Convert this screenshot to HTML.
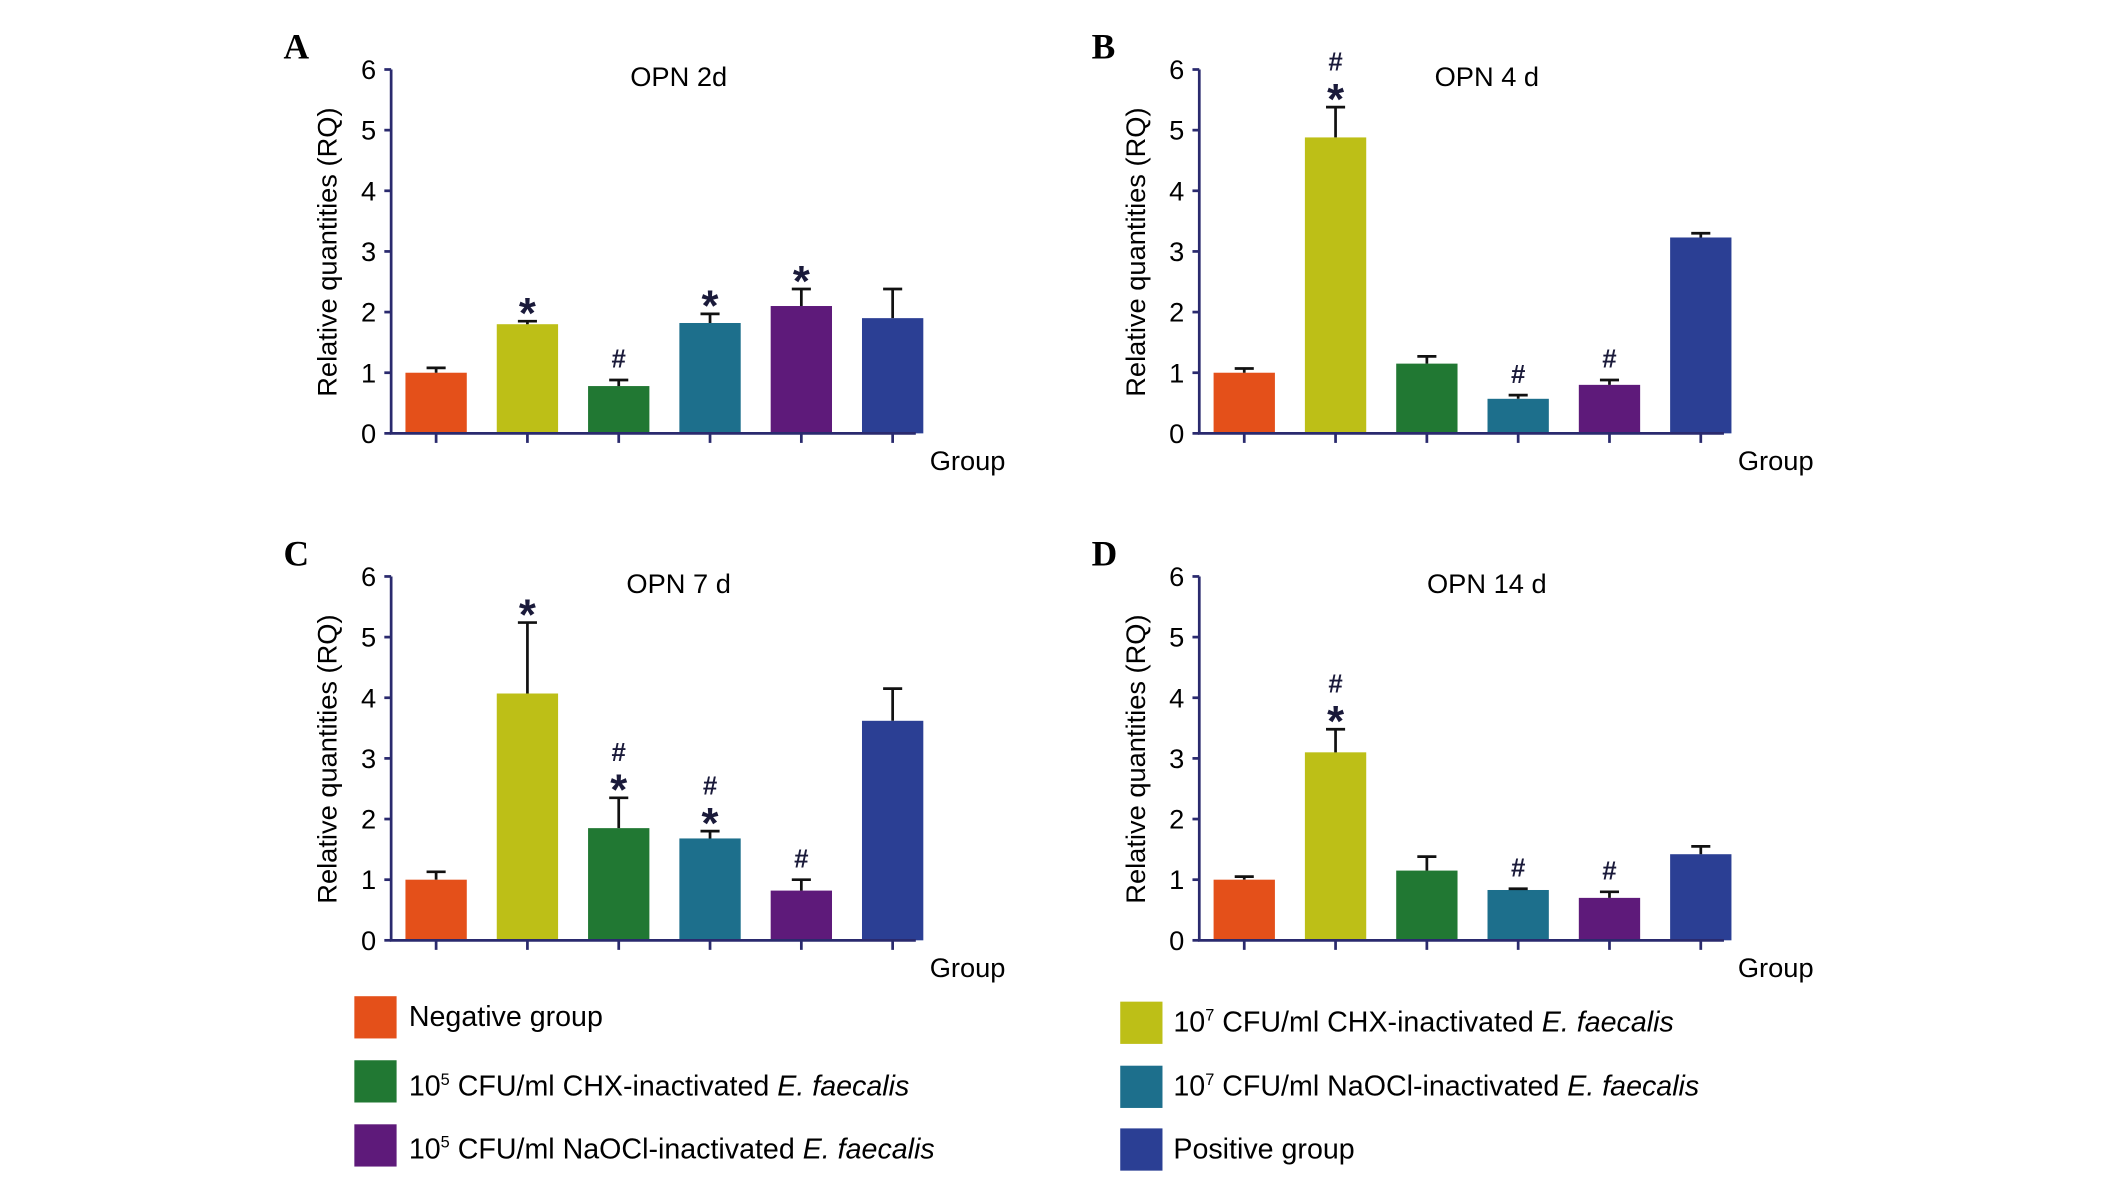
<!DOCTYPE html>
<html><head><meta charset="utf-8"><style>
html,body{margin:0;padding:0;background:#fff;}
svg{display:block;font-family:"Liberation Sans",sans-serif;}
</style></head><body>
<svg id="fig" width="2126" height="1178" viewBox="0 0 1560 864.4" xmlns="http://www.w3.org/2000/svg">
<g id="legend">
  <g><rect x="260" y="731" width="31" height="31" fill="#e4501a"/><text x="300" y="753" font-size="21">Negative group</text></g>
  <g><rect x="260" y="778" width="31" height="31" fill="#217833"/><text x="300" y="804" font-size="21">10<tspan font-size="12" dy="-8">5</tspan><tspan dy="8"> CFU/ml CHX-inactivated </tspan><tspan font-style="italic">E. faecalis</tspan></text></g>
  <g><rect x="260" y="825" width="31" height="31" fill="#5e1a7a"/><text x="300" y="850" font-size="21">10<tspan font-size="12" dy="-8">5</tspan><tspan dy="8"> CFU/ml NaOCl-inactivated </tspan><tspan font-style="italic">E. faecalis</tspan></text></g>
  <g><rect x="822" y="735" width="31" height="31" fill="#bdbf17"/><text x="861" y="757" font-size="21">10<tspan font-size="12" dy="-8">7</tspan><tspan dy="8"> CFU/ml CHX-inactivated </tspan><tspan font-style="italic">E. faecalis</tspan></text></g>
  <g><rect x="822" y="782" width="31" height="31" fill="#1d6f8c"/><text x="861" y="804" font-size="21">10<tspan font-size="12" dy="-8">7</tspan><tspan dy="8"> CFU/ml NaOCl-inactivated </tspan><tspan font-style="italic">E. faecalis</tspan></text></g>
  <g><rect x="822" y="828" width="31" height="31" fill="#2b3f94"/><text x="861" y="850" font-size="21">Positive group</text></g>
</g>
</svg>
<script>
const colors = ['#e4501a','#bdbf17','#217833','#1d6f8c','#5e1a7a','#2b3f94'];
const yTicks = [0,1,2,3,4,5,6];
const titles = ['OPN 2d','OPN 4 d','OPN 7 d','OPN 14 d'];
const letters = ['A','B','C','D'];
const valuesA = [1.0,1.8,0.78,1.82,2.1,1.9];
const errTopA = [1.08,1.85,0.88,1.97,2.38,2.38];
const marksA = ['','*','#','*','*',''];
const valuesB = [1.0,4.88,1.15,0.57,0.8,3.23];
const errTopB = [1.07,5.38,1.27,0.63,0.88,3.3];
const marksB = ['','#*','','#','#',''];
const valuesC = [1.0,4.07,1.85,1.68,0.82,3.62];
const errTopC = [1.13,5.24,2.35,1.8,1.0,4.15];
const marksC = ['','*','#*','#*','#',''];
const valuesD = [1.0,3.1,1.15,0.83,0.7,1.42];
const errTopD = [1.05,3.48,1.38,0.85,0.8,1.55];
const marksD = ['','#*','','#','#',''];

const NS='http://www.w3.org/2000/svg';
const svg=document.getElementById('fig');
function mk(tag,attrs,parent){const e=document.createElementNS(NS,tag);for(const k in attrs)e.setAttribute(k,attrs[k]);parent.appendChild(e);return e;}
const panels=[
 {ox:287,oy:318,v:valuesA,e:errTopA,m:marksA},
 {ox:880,oy:318,v:valuesB,e:errTopB,m:marksB},
 {ox:287,oy:690,v:valuesC,e:errTopC,m:marksC},
 {ox:880,oy:690,v:valuesD,e:errTopD,m:marksD}];
const axisCol='#2a2a6e';
panels.forEach((p,pi)=>{
  const g=mk('g',{},svg);
  
  
  const yS=v=>p.oy-v*44.5;
  const xS=i=>p.ox+33+i*67;
  const L=mk('text',{x:p.ox-79,y:p.oy-275,'font-size':26,'font-weight':'bold','font-family':'Liberation Serif, serif'},g);L.textContent=letters[pi];
  
  
  const t=mk('text',{x:p.ox+211,y:p.oy-255,'font-size':20,'text-anchor':'middle'},g);t.textContent=titles[pi];
  
  
  const yt=mk('text',{transform:`translate(${p.ox-40},${p.oy-133}) rotate(-90)`,'font-size':20,'text-anchor':'middle'},g);yt.textContent='Relative quantities (RQ)';
  
  
  const xt=mk('text',{x:p.ox+423,y:p.oy+27,'font-size':20,'text-anchor':'middle'},g);xt.textContent='Group';
  
  
  p.v.forEach((v,i)=>{
    const bw=45,cx=xS(i);
    const r=mk('rect',{x:cx-bw/2,y:yS(v),width:bw,height:yS(0)-yS(v),fill:colors[i]},g);
    
    
    const eb=mk('path',{d:`M${cx},${yS(v)}V${yS(p.e[i])}M${cx-7},${yS(p.e[i])}H${cx+7}`,stroke:'#111',fill:'none','stroke-width':2},g);
    
    
    const mks=p.m[i];
    const cap=yS(p.e[i]);
    let c=cap-(mks.endsWith('*')?13:16);
    for(let k=mks.length-1;k>=0;k--){
      const ch=mks[k];
      const s=mk('text',{x:cx,y:ch==='*'?c+18:c+7,'font-size':ch==='*'?32:19,'font-weight':'bold','text-anchor':'middle',fill:'#1a1a3a'},g);
      s.textContent=ch;
      
      
      c-=21;
    }
    mk('line',{x1:cx,x2:cx,y1:p.oy,y2:p.oy+7,stroke:axisCol,'stroke-width':2},g);
  });
  const ax=mk('path',{d:`M${p.ox},${yS(6)}V${p.oy}H${p.ox+385}`,stroke:axisCol,'stroke-width':2,fill:'none'},g);
  
  
  yTicks.forEach(v=>{
    mk('line',{x1:p.ox-5,x2:p.ox,y1:yS(v),y2:yS(v),stroke:axisCol,'stroke-width':2},g);
    const tl=mk('text',{x:p.ox-11,y:yS(v)+7,'font-size':20,'text-anchor':'end'},g);tl.textContent=v;
    
    
  });
});
</script>
</body></html>
